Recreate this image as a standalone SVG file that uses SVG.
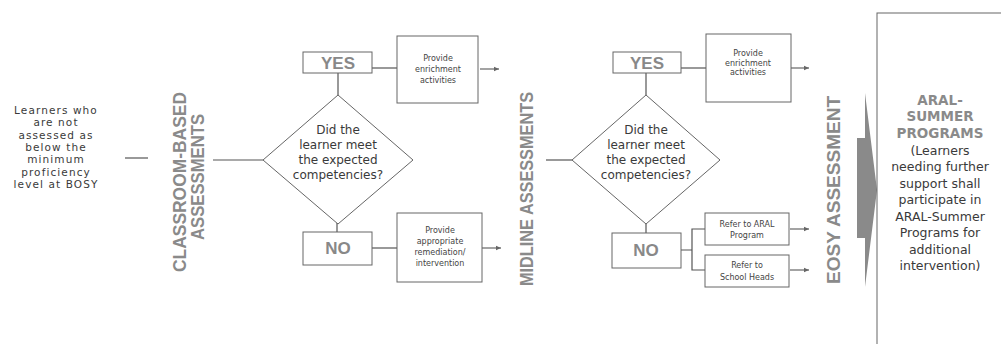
<svg xmlns="http://www.w3.org/2000/svg" width="1001" height="344" viewBox="0 0 1001 344">
<defs>
<marker id="ah" viewBox="0 0 8 8" refX="7" refY="4" markerWidth="6" markerHeight="6" orient="auto" markerUnits="userSpaceOnUse">
<path d="M0,1 L7,4 L0,7 z" fill="#666"/>
</marker>
</defs>
<style>
.bx{fill:#fff;stroke:#666;stroke-width:1}
.ln{fill:none;stroke:#555;stroke-width:1.2}
.ar{fill:none;stroke:#666;stroke-width:1.2;marker-end:url(#ah)}
.t{font-family:"DejaVu Sans","Noto Sans",sans-serif;fill:#3a3a3a;text-anchor:middle}
.lt{font-size:10.5px;letter-spacing:1.1px}
.dt{font-size:12px}
.sm{font-size:8px;fill:#444}
.yn{font-family:"Liberation Sans",Arial,sans-serif;font-weight:bold;font-size:17px;fill:#888;text-anchor:middle}
.vt{font-family:"Liberation Sans",Arial,sans-serif;font-weight:bold;font-size:18px;fill:#8a8a8a;text-anchor:middle}
.hd{font-family:"DejaVu Sans","Noto Sans",sans-serif;font-weight:bold;font-size:13.5px;fill:#8a8a8a;text-anchor:middle}
.bt{font-size:12.5px}
</style>
<rect width="1001" height="344" fill="#fff"/>

<g id="connectors">
<line class="ln" x1="125" y1="158" x2="148" y2="158"/>
<line class="ln" x1="213" y1="160" x2="263" y2="160"/>
<line class="ln" x1="338" y1="73" x2="338" y2="95"/>
<line class="ln" x1="372" y1="68" x2="397" y2="68"/>
<path class="ar" d="M480,69 L499,69"/>
<line class="ln" x1="337" y1="223" x2="337" y2="232"/>
<line class="ln" x1="372" y1="248" x2="397" y2="248"/>
<path class="ar" d="M482,248 L501,248"/>
<line class="ln" x1="546" y1="160" x2="572" y2="160"/>
<line class="ln" x1="646" y1="73" x2="646" y2="95"/>
<line class="ln" x1="681" y1="68" x2="706" y2="68"/>
<path class="ar" d="M791,68 L809,68"/>
<line class="ln" x1="646" y1="223" x2="646" y2="233"/>
<path class="ln" d="M681,250 L692,250 M705,229 L692,229 L692,270 L705,270"/>
<path class="ar" d="M790,229 L809,229"/>
<path class="ar" d="M790,270 L809,270"/>
</g>

<g id="start">
<text class="t lt" x="56" y="114">Learners who</text>
<text class="t lt" x="56" y="126.3">are not</text>
<text class="t lt" x="56" y="138.6">assessed as</text>
<text class="t lt" x="56" y="150.9">below the</text>
<text class="t lt" x="56" y="163.2">minimum</text>
<text class="t lt" x="56" y="175.5">proficiency</text>
<text class="t lt" x="56" y="187.8">level at BOSY</text>
</g>

<g id="classroom-label">
<text class="vt" transform="translate(186,182) rotate(-90)" textLength="180" lengthAdjust="spacingAndGlyphs">CLASSROOM-BASED</text>
<text class="vt" transform="translate(204,177) rotate(-90)" textLength="126" lengthAdjust="spacingAndGlyphs">ASSESSMENTS</text>
</g>

<g id="decision1">
<polygon class="bx" points="263,160 338,95 413,160 338,224"/>
<text class="t dt" x="338" y="134">Did the</text>
<text class="t dt" x="338" y="149">learner meet</text>
<text class="t dt" x="338" y="164">the expected</text>
<text class="t dt" x="338" y="179">competencies?</text>
</g>

<g id="yes1">
<rect class="bx" x="303" y="52" width="69" height="21"/>
<text class="yn" x="338" y="69">YES</text>
</g>

<g id="enrich1">
<rect class="bx" x="397" y="36" width="81" height="67"/>
<text class="t sm" x="438" y="61">Provide</text>
<text class="t sm" x="438" y="72">enrichment</text>
<text class="t sm" x="438" y="83">activities</text>
</g>

<g id="no1">
<rect class="bx" x="303" y="232" width="69" height="33"/>
<text class="yn" x="338" y="254">NO</text>
</g>

<g id="remed1">
<rect class="bx" x="397" y="213" width="85" height="69"/>
<text class="t sm" x="440" y="233">Provide</text>
<text class="t sm" x="440" y="244">appropriate</text>
<text class="t sm" x="440" y="255">remediation/</text>
<text class="t sm" x="440" y="266">intervention</text>
</g>

<g id="midline-label">
<text class="vt" transform="translate(533,189) rotate(-90)" textLength="194" lengthAdjust="spacingAndGlyphs">MIDLINE ASSESSMENTS</text>
</g>

<g id="decision2">
<polygon class="bx" points="572,160 646,95 720,160 646,224"/>
<text class="t dt" x="646" y="134">Did the</text>
<text class="t dt" x="646" y="149">learner meet</text>
<text class="t dt" x="646" y="164">the expected</text>
<text class="t dt" x="646" y="179">competencies?</text>
</g>

<g id="yes2">
<rect class="bx" x="613" y="52" width="68" height="21"/>
<text class="yn" x="647" y="69">YES</text>
</g>

<g id="enrich2">
<rect class="bx" x="706" y="34" width="85" height="68"/>
<text class="t sm" x="748" y="56">Provide</text>
<text class="t sm" x="748" y="65.5">enrichment</text>
<text class="t sm" x="748" y="75">activities</text>
</g>

<g id="no2">
<rect class="bx" x="612" y="233" width="69" height="35"/>
<text class="yn" x="646" y="256">NO</text>
</g>

<g id="aral">
<rect class="bx" x="705" y="213" width="84" height="32"/>
<text class="t sm" x="747" y="227">Refer to ARAL</text>
<text class="t sm" x="747" y="238">Program</text>
</g>

<g id="heads">
<rect class="bx" x="705" y="255" width="84" height="32"/>
<text class="t sm" x="747" y="268">Refer to</text>
<text class="t sm" x="747" y="280">School Heads</text>
</g>

<g id="eosy-label">
<text class="vt" transform="translate(840,190) rotate(-90)" textLength="188" lengthAdjust="spacingAndGlyphs">EOSY ASSESSMENT</text>
</g>

<g id="big-arrow">
<polygon points="857,138 865,138 865,93 877,190 865,287 865,238 857,238" fill="#8a8a8a"/>
</g>

<g id="summer">
<rect class="bx" x="877" y="13" width="140" height="340"/>
<text class="hd" x="940" y="105">ARAL-</text>
<text class="hd" x="940" y="121">SUMMER</text>
<text class="hd" x="940" y="138">PROGRAMS</text>
<text class="t bt" x="940" y="155">(Learners</text>
<text class="t bt" x="940" y="171">needing  further</text>
<text class="t bt" x="940" y="188">support shall</text>
<text class="t bt" x="940" y="204">participate in</text>
<text class="t bt" x="940" y="221">ARAL-Summer</text>
<text class="t bt" x="940" y="237">Programs for</text>
<text class="t bt" x="940" y="254">additional</text>
<text class="t bt" x="940" y="270">intervention)</text>
</g>
</svg>
